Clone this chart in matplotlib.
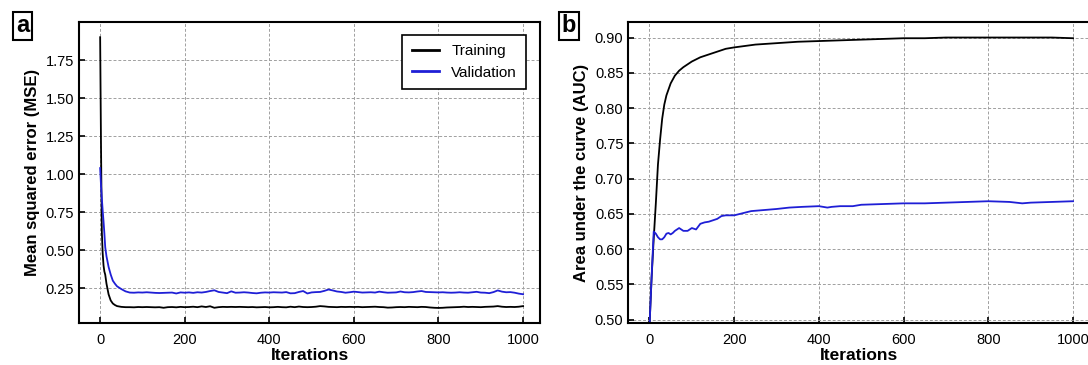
import matplotlib.pyplot as plt

plt.rcParams['font.family'] = ['Liberation Sans', 'DejaVu Sans']

# (a) mean squared error
mse_iter = [0, 2, 4, 6, 8, 10, 12, 15, 20, 25, 30, 35, 40, 50, 60] + list(range(70, 1001, 10))
mse_train = [1.90, 1.20, 0.62, 0.48, 0.40, 0.36, 0.34, 0.28, 0.21, 0.17, 0.15, 0.14, 0.133, 0.128, 0.126,
             0.126, 0.125, 0.127, 0.126, 0.127, 0.126, 0.125, 0.126, 0.122, 0.126, 0.127, 0.125, 0.128, 0.126,
             0.127, 0.129, 0.126, 0.131, 0.127, 0.132, 0.122, 0.126, 0.128, 0.127,
             0.128, 0.127, 0.128, 0.127, 0.126, 0.127, 0.125, 0.126, 0.127, 0.125,
             0.126, 0.128, 0.126, 0.125, 0.129, 0.126, 0.130, 0.127, 0.126, 0.127,
             0.129, 0.133, 0.131, 0.128, 0.127, 0.126, 0.128, 0.127, 0.128, 0.127,
             0.128, 0.126, 0.127, 0.128, 0.129, 0.127, 0.126, 0.123, 0.124, 0.126,
             0.127, 0.126, 0.128, 0.127, 0.126, 0.128, 0.127, 0.124, 0.122, 0.121,
             0.122, 0.124, 0.125, 0.126, 0.127, 0.129, 0.127, 0.128, 0.127, 0.126,
             0.128, 0.129, 0.130, 0.133, 0.129, 0.127, 0.128, 0.127, 0.129, 0.133]
mse_val = [1.04, 0.93, 0.84, 0.76, 0.69, 0.61, 0.52, 0.46, 0.39, 0.34, 0.30, 0.28, 0.263, 0.245, 0.230,
           0.222, 0.221, 0.223, 0.222, 0.224, 0.222, 0.220, 0.219, 0.220, 0.221, 0.222, 0.216, 0.223, 0.221,
           0.223, 0.220, 0.224, 0.222, 0.226, 0.232, 0.237, 0.226, 0.222, 0.218,
           0.230, 0.221, 0.222, 0.224, 0.222, 0.219, 0.217, 0.221, 0.223, 0.222,
           0.224, 0.223, 0.222, 0.225, 0.217, 0.218, 0.226, 0.232, 0.216, 0.223,
           0.225, 0.226, 0.233, 0.242, 0.236, 0.229, 0.226, 0.221, 0.224, 0.228,
           0.225, 0.222, 0.223, 0.224, 0.222, 0.228, 0.224, 0.221, 0.222, 0.223,
           0.229, 0.224, 0.223, 0.225, 0.229, 0.232, 0.226, 0.225, 0.224, 0.223,
           0.224, 0.222, 0.221, 0.222, 0.224, 0.222, 0.221, 0.224, 0.227, 0.222,
           0.221, 0.218, 0.225, 0.236, 0.228, 0.224, 0.225, 0.221, 0.215, 0.211]

# (b) area under the curve
auc_train_iter = [0, 5, 10, 15, 20, 25, 30, 35, 40, 50, 60, 70, 80, 90, 100, 120, 140, 160, 180, 200,
                  250, 300, 350, 400, 450, 500, 550, 600, 650, 700, 750, 800, 850, 900, 950, 1000]
auc_train = [0.49, 0.56, 0.615, 0.665, 0.72, 0.755, 0.785, 0.805, 0.818, 0.835, 0.846, 0.853, 0.858, 0.862,
             0.866, 0.872, 0.876, 0.880, 0.884, 0.886, 0.890, 0.892, 0.894, 0.895, 0.896, 0.897, 0.898,
             0.899, 0.899, 0.900, 0.900, 0.900, 0.900, 0.900, 0.900, 0.899]
auc_val_iter = [0, 5, 10, 15, 20, 25, 30, 35, 40, 45, 50, 55, 60, 65, 70, 75, 80, 85, 90, 95, 100, 105,
                110, 115, 120, 130, 140, 150, 160, 170, 180, 190, 200, 220, 240, 260, 280, 300, 330, 360,
                400, 420, 430, 450, 480, 500, 550, 600, 650, 700, 750, 800, 850, 880, 900, 950, 1000]
auc_val = [0.49, 0.56, 0.625, 0.622, 0.617, 0.614, 0.614, 0.617, 0.622, 0.623, 0.621, 0.623, 0.626, 0.628,
           0.630, 0.628, 0.626, 0.626, 0.626, 0.628, 0.630, 0.629, 0.628, 0.632, 0.636, 0.638, 0.639, 0.641,
           0.643, 0.647, 0.648, 0.648, 0.648, 0.651, 0.654, 0.655, 0.656, 0.657, 0.659, 0.660, 0.661, 0.659,
           0.660, 0.661, 0.661, 0.663, 0.664, 0.665, 0.665, 0.666, 0.667, 0.668, 0.667, 0.665, 0.666, 0.667,
           0.668]

blue = '#1f1fd6'
fig = plt.figure(figsize=(10.88, 3.65), dpi=100)
ax_a = fig.add_axes([79 / 1088, 1 - 323.3 / 365, (540 - 79) / 1088, (323.3 - 22) / 365])
ax_b = fig.add_axes([628.3 / 1088, 1 - 323.3 / 365, (1090 - 628.3) / 1088, (323.3 - 22) / 365])


def style(ax):
    for s in ax.spines.values():
        s.set_linewidth(1.5)
    ax.grid(True, color='#a0a0a0', linestyle=(0, (3, 2)), linewidth=0.7)
    ax.set_axisbelow(True)
    ax.tick_params(direction='in', length=4, width=1.2, labelsize=10.5)
    ax.tick_params(axis='x', pad=7)
    ax.set_xlim(-50, 1040)
    ax.set_xticks([0, 200, 400, 600, 800, 1000])
    ax.set_xlabel('Iterations', fontsize=12.5, fontweight='bold', labelpad=1)


ax_a.plot(mse_iter, mse_train, color='black', lw=1.3, label='Training')
ax_a.plot(mse_iter, mse_val, color=blue, lw=1.3, label='Validation')
style(ax_a)
ax_a.set_ylim(0.02, 2.0)
ax_a.set_yticks([0.25, 0.50, 0.75, 1.00, 1.25, 1.50, 1.75])
ax_a.set_yticklabels(['0.25', '0.50', '0.75', '1.00', '1.25', '1.50', '1.75'])
ax_a.set_ylabel('Mean squared error (MSE)', fontsize=12, fontweight='bold')
leg = ax_a.legend(loc='upper right', bbox_to_anchor=(0.97, 0.957), borderaxespad=0, fontsize=11,
                  fancybox=False, framealpha=1, edgecolor='black', handlelength=1.8, borderpad=0.6)
leg.get_frame().set_linewidth(1.2)
for h in leg.get_lines():
    h.set_linewidth(2)

ax_b.plot(auc_train_iter, auc_train, color='black', lw=1.3)
ax_b.plot(auc_val_iter, auc_val, color=blue, lw=1.3)
style(ax_b)
ax_b.set_ylim(0.495, 0.922)
ax_b.set_yticks([0.50, 0.55, 0.60, 0.65, 0.70, 0.75, 0.80, 0.85, 0.90])
ax_b.set_yticklabels(['%.2f' % v for v in [0.50, 0.55, 0.60, 0.65, 0.70, 0.75, 0.80, 0.85, 0.90]])
ax_b.set_ylabel('Area under the curve (AUC)', fontsize=12, fontweight='bold')

box = dict(boxstyle='square,pad=0.12', facecolor='white', edgecolor='black', linewidth=1.5)
fig.text(22.5 / 1088, 1 - 26 / 365, 'a', fontsize=17, fontweight='bold', ha='center', va='center', bbox=box)
fig.text(569 / 1088, 1 - 26 / 365, 'b', fontsize=17, fontweight='bold', ha='center', va='center', bbox=box)

plt.savefig('out.png', dpi=100)
